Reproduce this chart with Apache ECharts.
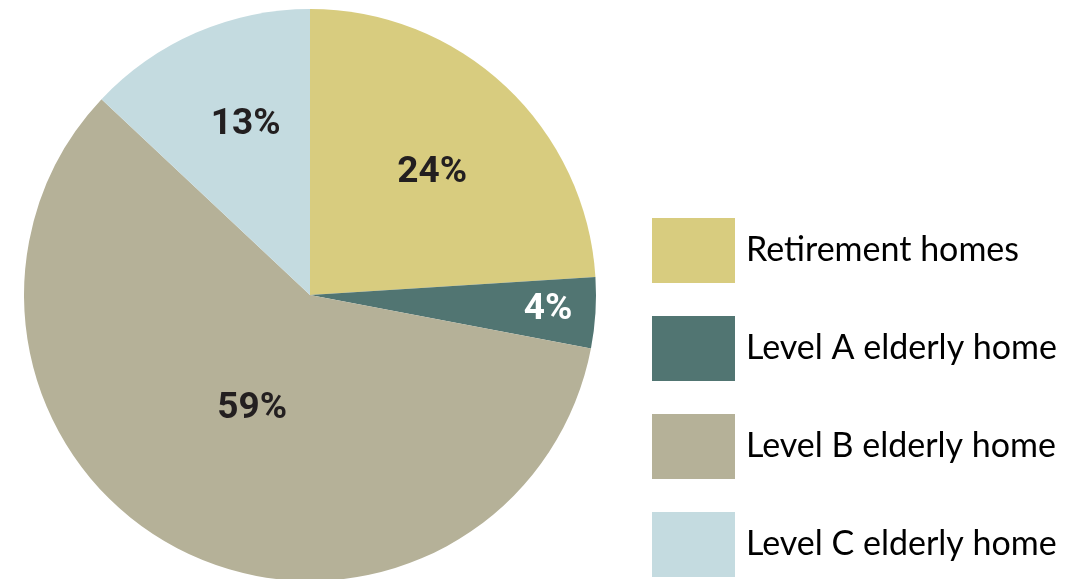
<!DOCTYPE html>
<html>
<head>
<meta charset="utf-8">
<script src="https://cdn.jsdelivr.net/npm/echarts@6/dist/echarts.min.js"></script>
<style>
  html, body { margin: 0; padding: 0; background: #fff; }
  #chart { width: 1087px; height: 579px; }
</style>
</head>
<body>
<div id="chart"></div>
<script>
const categories = ['Retirement homes', 'Level A elderly home', 'Level B elderly home', 'Level C elderly home'];
const shares = [24, 4, 59, 13];
const colors = ['#d8cc7f', '#517572', '#b5b198', '#c4dbe0'];

// label placement: fraction of radius and a small angle nudge (degrees)
const labelRadius = [0.605, 0.834, 0.446, 0.637];
const labelNudge = [1.7, 0, 0, 2.7];
const cx = 310, cy = 295, r = 286;

const total = shares.reduce((a, b) => a + b, 0);
let acc = 0;
const midAngles = shares.map(v => {
  const mid = (acc + v / 2) / total * Math.PI * 2;
  acc += v;
  return mid;
});

const chart = echarts.init(document.getElementById('chart'));
chart.setOption({
  animation: false,
  color: colors,
  legend: {
    orient: 'vertical',
    left: 652,
    top: 218,
    padding: 0,
    icon: 'rect',
    itemWidth: 83,
    itemHeight: 65,
    itemGap: 33,
    selectedMode: false,
    data: categories,
    textStyle: {
      fontFamily: 'Lato',
      fontSize: 34,
      color: '#000',
      padding: [0, 0, 0, 6]
    }
  },
  series: [{
    type: 'pie',
    center: [cx, cy],
    radius: r,
    startAngle: 90,
    clockwise: true,
    silent: true,
    label: {
      show: true,
      position: 'inside',
      formatter: '{c}%',
      fontFamily: 'Roboto',
      fontWeight: 'bold',
      fontSize: 37,
      color: '#231f20'
    },
    labelLine: { show: false },
    labelLayout: function (p) {
      const i = p.dataIndex;
      const a = midAngles[i] + labelNudge[i] * Math.PI / 180;
      const d = r * labelRadius[i];
      return {
        x: cx + d * Math.sin(a),
        y: cy - d * Math.cos(a),
        align: 'center',
        verticalAlign: 'middle'
      };
    },
    data: categories.map((name, i) => ({
      name: name,
      value: shares[i],
      label: i === 1 ? { color: '#fff' } : undefined
    }))
  }]
});
</script>
</body>
</html>
